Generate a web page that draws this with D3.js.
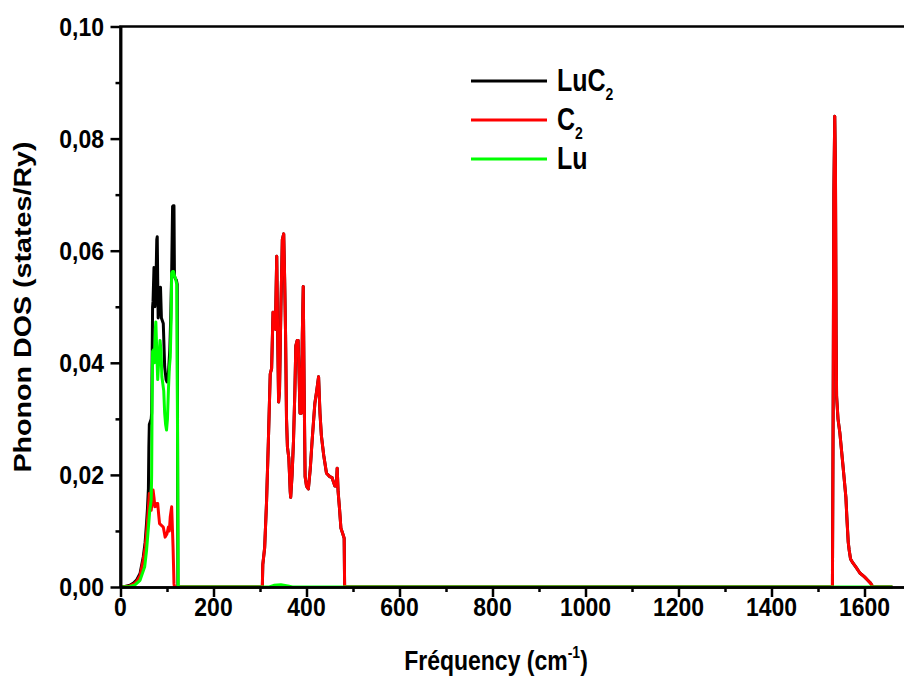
<!DOCTYPE html>
<html>
<head>
<meta charset="utf-8">
<script src="https://cdn.jsdelivr.net/npm/d3@7"></script>
<style>
  html, body { margin: 0; padding: 0; background: #fff; }
  svg { display: block; font-family: "Liberation Sans", Arial, sans-serif; font-weight: bold; }
</style>
</head>
<body>
<svg id="chart" width="904" height="682"></svg>
<script>
// Phonon DOS of LuC2, total and partial (frequency in cm-1, DOS in states/Ry)
var luc2Dos = [
  [0, 0], [10, 0.0001], [20, 0.0003], [28, 0.0007], [35, 0.0013], [42, 0.0024], [49, 0.0054],
  [53, 0.008], [56, 0.0114], [58, 0.014], [60, 0.0175], [61, 0.025], [62, 0.029], [64, 0.0295],
  [66, 0.030], [67, 0.031], [68, 0.040], [69, 0.050], [70, 0.051], [72, 0.057], [74, 0.050],
  [76, 0.053], [78, 0.062], [79, 0.0625], [80, 0.055], [81, 0.048], [83, 0.050], [85, 0.052],
  [86, 0.0535], [88, 0.048], [90, 0.0475], [92, 0.047], [95, 0.0393], [98, 0.037], [100, 0.0366],
  [103, 0.038], [106, 0.0423], [108, 0.048], [110, 0.056], [112, 0.0679], [113, 0.068], [115, 0.068],
  [116, 0.0555], [118, 0.055], [120, 0.0548], [122, 0.054], [123.5, 0], [300, 0],
  [305, 0], [306, 0.004], [310, 0.007], [314, 0.015], [318, 0.026], [322, 0.038], [325, 0.039],
  [328, 0.049], [330, 0.048], [333, 0.046], [336, 0.059], [338, 0.045], [340, 0.033], [342, 0.035],
  [345, 0.050], [348, 0.062], [351, 0.063], [353, 0.055], [355, 0.045], [357, 0.030], [359, 0.025],
  [362, 0.023], [365, 0.017], [366, 0.016], [369, 0.020], [372, 0.026], [375, 0.035], [377, 0.043],
  [380, 0.044], [382, 0.044], [384, 0.038], [386, 0.031], [389, 0.031], [391, 0.045], [393, 0.0536],
  [395, 0.035], [397, 0.0197], [400, 0.018], [404, 0.0175], [408, 0.021], [412, 0.026], [418, 0.0328],
  [422, 0.035], [426, 0.0375], [429, 0.031], [432, 0.027], [437, 0.0235], [443, 0.0203], [450, 0.0197],
  [455, 0.0195], [461, 0.018], [464, 0.018], [466, 0.0212], [468, 0.017], [471, 0.014], [474, 0.0105],
  [478, 0.0095], [481, 0.0087], [482, 0], [1531, 0],
  [1532.5, 0.030], [1534, 0.070], [1536, 0.084], [1537.5, 0.075], [1539, 0.045], [1540, 0.034],
  [1543, 0.030], [1547, 0.0275], [1554, 0.0214], [1560, 0.016], [1562, 0.0125], [1565, 0.008],
  [1567, 0.0066], [1570, 0.005], [1575, 0.0043], [1582, 0.0035], [1590, 0.0025], [1600, 0.0018],
  [1607, 0.0012], [1613, 0.0007], [1618, 0], [1660, 0]
];

var c2Dos = [
  [0, 0], [20, 0.0002], [30, 0.0006], [35, 0.001], [42, 0.002], [49, 0.0048], [53, 0.007],
  [56, 0.0096], [59, 0.013], [62, 0.0167], [64, 0.015], [66, 0.0137], [68, 0.015], [70, 0.0173],
  [72, 0.016], [74, 0.0143], [76, 0.0145], [78, 0.0149], [80, 0.0149], [82, 0.013], [84, 0.0113],
  [88, 0.011], [92, 0.0107], [96, 0.0089], [100, 0.0095], [103, 0.0107], [105, 0.010], [107, 0.0125],
  [110, 0.0143], [111, 0.012], [112, 0.0096], [113, 0.0072], [114, 0.004], [115, 0.0006], [116, 0],
  [305, 0], [306, 0.004], [310, 0.007], [314, 0.015], [318, 0.026], [322, 0.038], [325, 0.039],
  [328, 0.049], [330, 0.048], [333, 0.046], [336, 0.059], [338, 0.045], [340, 0.033], [342, 0.035],
  [345, 0.050], [348, 0.062], [351, 0.063], [353, 0.055], [355, 0.045], [357, 0.030], [359, 0.025],
  [362, 0.023], [365, 0.017], [366, 0.016], [369, 0.020], [372, 0.026], [375, 0.035], [377, 0.043],
  [380, 0.044], [382, 0.044], [384, 0.038], [386, 0.031], [389, 0.031], [391, 0.045], [393, 0.0536],
  [395, 0.035], [397, 0.0197], [400, 0.018], [404, 0.0175], [408, 0.021], [412, 0.026], [418, 0.0328],
  [422, 0.035], [426, 0.0375], [429, 0.031], [432, 0.027], [437, 0.0235], [443, 0.0203], [450, 0.0197],
  [455, 0.0195], [461, 0.018], [464, 0.018], [466, 0.0212], [468, 0.017], [471, 0.014], [474, 0.0105],
  [478, 0.0095], [481, 0.0087], [482, 0], [1531, 0],
  [1532.5, 0.030], [1534, 0.070], [1536, 0.084], [1537.5, 0.075], [1539, 0.045], [1540, 0.034],
  [1543, 0.030], [1547, 0.0275], [1554, 0.0214], [1560, 0.016], [1562, 0.0125], [1565, 0.008],
  [1567, 0.0066], [1570, 0.005], [1575, 0.0043], [1582, 0.0035], [1590, 0.0025], [1600, 0.0018],
  [1607, 0.0012], [1613, 0.0007], [1618, 0], [1660, 0]
];

var luDos = [
  [0, 0], [20, 0.0001], [30, 0.0003], [42, 0.0012], [47, 0.0024], [52, 0.0036], [56, 0.0065],
  [59, 0.0096], [63, 0.0137], [66, 0.0155], [67, 0.020], [68, 0.033], [69, 0.042], [71, 0.0423],
  [73, 0.040], [75, 0.046], [76, 0.0473], [78, 0.042], [80, 0.037], [82, 0.040], [85, 0.044],
  [87, 0.0423], [89, 0.0375], [93, 0.035], [95, 0.031], [97, 0.029], [99, 0.028], [101, 0.030],
  [103, 0.035], [105, 0.039], [107, 0.041], [109, 0.048], [110, 0.056], [112, 0.0563], [114, 0.0563],
  [116, 0.0555], [118.5, 0.055], [121, 0.054], [122.5, 0.030], [124, 0], [320, 0], [330, 0.0003],
  [345, 0.0004], [360, 0.0002], [370, 0], [1660, 0]
];

var seriesNames = ["LuC", "C", "Lu"];
var seriesSubs = ["2", "2", ""];
var seriesColors = ["#000000", "#ff0000", "#00ff00"];

var xTickValues = [0, 200, 400, 600, 800, 1000, 1200, 1400, 1600];
var xMinorValues = [100, 300, 500, 700, 900, 1100, 1300, 1500, 1700];
var yTickValues = [0, 0.02, 0.04, 0.06, 0.08, 0.10];
var yTickLabels = ["0,00", "0,02", "0,04", "0,06", "0,08", "0,10"];
var yMinorValues = [0.01, 0.03, 0.05, 0.07, 0.09];

// The figure was stretched vertically, so horizontal text is tall and narrow.
var stretch = 1.22;
var tickStretch = 1.12;

var svg = d3.select("#chart");

var x = d3.scaleLinear().domain([0, 1700]).range([120.5, 911]);
var y = d3.scaleLinear().domain([0, 0.1]).range([587, 26.5]);

// Curves, drawn in legend order so Lu ends up on top.
var line = d3.line()
    .x(function(d) { return x(d[0]); })
    .y(function(d) { return y(d[1]); });

var plot = svg.append("g");
[luc2Dos, c2Dos, luDos].forEach(function(data, i) {
  plot.append("path")
      .datum(data)
      .attr("d", line)
      .attr("fill", "none")
      .attr("stroke", seriesColors[i])
      .attr("stroke-width", 3)
      .attr("stroke-linejoin", "round");
});

// Frame (right side falls outside the picture).
svg.append("path")
    .attr("d", "M" + x(0) + "," + y(0) + "V" + y(0.1) + "H" + x(1700) + "V" + y(0))
    .attr("fill", "none")
    .attr("stroke", "#000")
    .attr("stroke-width", 2.5);

function styleAxis(g) {
  g.select(".domain").attr("stroke-width", 2.5);
  g.selectAll(".tick line").attr("stroke-width", 2.5);
  g.selectAll(".tick text").remove();
}

svg.append("g")
    .attr("transform", "translate(0," + y(0) + ")")
    .call(d3.axisBottom(x).tickValues(xTickValues).tickSize(10).tickSizeOuter(0).tickFormat(""))
    .call(styleAxis);
svg.append("g")
    .attr("transform", "translate(0," + y(0) + ")")
    .call(d3.axisBottom(x).tickValues(xMinorValues).tickSize(5).tickSizeOuter(0).tickFormat(""))
    .call(styleAxis);
svg.append("g")
    .attr("transform", "translate(" + x(0) + ",0)")
    .call(d3.axisLeft(y).tickValues(yTickValues).tickSize(10).tickSizeOuter(0).tickFormat(""))
    .call(styleAxis);
svg.append("g")
    .attr("transform", "translate(" + x(0) + ",0)")
    .call(d3.axisLeft(y).tickValues(yMinorValues).tickSize(5).tickSizeOuter(0).tickFormat(""))
    .call(styleAxis);

// Tick labels.
svg.append("g").selectAll("text")
    .data(xTickValues)
    .join("text")
    .attr("transform", function(d) { return "translate(" + x(d) + ",616) scale(1," + tickStretch + ")"; })
    .attr("text-anchor", "middle")
    .attr("font-size", 23)
    .text(function(d) { return d; });

svg.append("g").selectAll("text")
    .data(yTickValues)
    .join("text")
    .attr("transform", function(d) { return "translate(104," + (y(d) + 9) + ") scale(1," + tickStretch + ")"; })
    .attr("text-anchor", "end")
    .attr("font-size", 23)
    .text(function(d, i) { return yTickLabels[i]; });

// Axis titles.
var xTitle = svg.append("text")
    .attr("transform", "translate(496,670) scale(1," + stretch + ")")
    .attr("text-anchor", "middle")
    .attr("font-size", 23);
xTitle.append("tspan").text("Fréquency (cm");
xTitle.append("tspan").attr("font-size", 14).attr("dy", -10).text("-1");
xTitle.append("tspan").attr("dy", 10).text(")");

svg.append("text")
    .attr("transform", "translate(31,307) rotate(-90) scale(" + stretch + ",1)")
    .attr("text-anchor", "middle")
    .attr("font-size", 23.5)
    .text("Phonon DOS (states/Ry)");

// Legend.
var legendY = [81, 120, 159];
var legend = svg.append("g").selectAll("g")
    .data(seriesNames)
    .join("g")
    .attr("transform", function(d, i) { return "translate(0," + legendY[i] + ")"; });

legend.append("line")
    .attr("x1", 471).attr("x2", 547)
    .attr("stroke", function(d, i) { return seriesColors[i]; })
    .attr("stroke-width", 2.8);

var legendText = legend.append("text")
    .attr("transform", "translate(557,10) scale(1," + stretch + ")")
    .attr("font-size", 25);
legendText.append("tspan").text(function(d) { return d; });
legendText.append("tspan")
    .attr("font-size", 14)
    .attr("dy", 7)
    .text(function(d, i) { return seriesSubs[i]; });
</script>
</body>
</html>
